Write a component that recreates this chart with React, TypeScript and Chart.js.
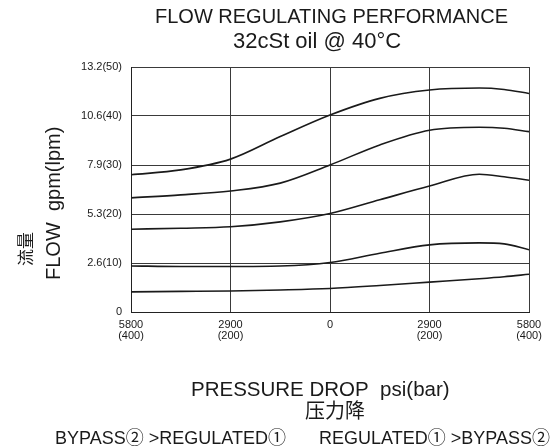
import { useEffect, useRef } from 'react';
import { Chart, registerables } from 'chart.js';

Chart.register(...registerables);

// Pressure drop in bar (negative = BYPASS② >REGULATED①, positive = REGULATED① >BYPASS②)
const pressureBar = [-400, -300, -200, -100, 0, 100, 200, 300, 350, 400];

// Flow in lpm for each regulated setting
const curve1 = [28.0, 29.0, 31.2, 35.8, 40.2, 43.6, 45.3, 45.7, 45.4, 44.6];
const curve2 = [23.3, 23.9, 24.7, 26.3, 30.0, 34.1, 37.1, 37.7, 37.5, 36.8];
const curve3 = [16.9, 17.1, 17.4, 18.4, 20.1, 22.9, 25.7, 28.1, 27.6, 26.9];
const curve4 = [9.4, 9.3, 9.3, 9.4, 10.1, 12.0, 13.7, 14.1, 13.9, 12.7];
const curve5 = [4.1, 4.2, 4.3, 4.5, 4.8, 5.4, 6.1, 6.8, 7.2, 7.7];

const yTickLabels = ['0', '2.6(10)', '5.3(20)', '7.9(30)', '10.6(40)', '13.2(50)'];
const xTickLabels: (string | string[])[] = [
  ['5800', '(400)'],
  ['2900', '(200)'],
  '0',
  ['2900', '(200)'],
  ['5800', '(400)'],
];

const titleLines = ['FLOW REGULATING PERFORMANCE', '32cSt oil @ 40°C'];
const yTitleLines = ['流量', 'FLOW  gpm(lpm)'];
const xTitleLines = ['PRESSURE DROP  psi(bar)', '压力降'];
const directionNotes = ['BYPASS② >REGULATED①', 'REGULATED① >BYPASS②'];

const SANS = '"Liberation Sans", Arial, "Noto Sans CJK SC", sans-serif';
const CJK = '"Noto Sans CJK SC", sans-serif';

const textPlugin = {
  id: 'chartTexts',
  afterDraw(chart: Chart) {
    const ctx = chart.ctx;
    ctx.save();
    ctx.fillStyle = '#1a1a1a';
    ctx.textBaseline = 'alphabetic';
    ctx.textAlign = 'left';

    ctx.font = `20px ${SANS}`;
    ctx.fillText(titleLines[0], 155, 23);
    ctx.font = `22px ${SANS}`;
    ctx.fillText(titleLines[1], 233, 48);

    // y axis title (rotated)
    ctx.save();
    ctx.translate(60, 280);
    ctx.rotate(-Math.PI / 2);
    ctx.font = `20px ${SANS}`;
    ctx.fillText(yTitleLines[1], 0, 0);
    ctx.restore();

    ctx.save();
    ctx.translate(26, 249);
    ctx.rotate(-Math.PI / 2);
    ctx.font = `17px ${CJK}`;
    ctx.textAlign = 'center';
    ctx.textBaseline = 'middle';
    ctx.fillText(yTitleLines[0], 0, 0);
    ctx.restore();

    // x axis title
    ctx.font = `20.5px ${SANS}`;
    ctx.fillText(xTitleLines[0], 191, 396);
    ctx.save();
    ctx.font = `20px ${CJK}`;
    ctx.textAlign = 'center';
    ctx.textBaseline = 'middle';
    ctx.fillText(xTitleLines[1], 335, 410);
    ctx.restore();

    // direction notes
    ctx.font = `18px ${SANS}`;
    ctx.fillText(directionNotes[0], 55, 444);
    ctx.textAlign = 'right';
    ctx.fillText(directionNotes[1], 550, 444);
    ctx.restore();
  },
};

export default function App() {
  const ref = useRef<HTMLCanvasElement | null>(null);

  useEffect(() => {
    if (!ref.current) return;
    const curves = [curve1, curve2, curve3, curve4, curve5];
    const chart = new Chart(ref.current, {
      type: 'line',
      data: {
        datasets: curves.map((c, i) => ({
          label: `curve ${i + 1}`,
          data: pressureBar.map((x, j) => ({ x, y: c[j] })),
          borderColor: '#1a1a1a',
          borderWidth: 1.6,
          pointRadius: 0,
          fill: false,
          cubicInterpolationMode: 'monotone' as const,
        })),
      },
      options: {
        responsive: false,
        animation: false,
        events: [],
        layout: { padding: { left: 0, top: 67, right: 24, bottom: 0 } },
        plugins: {
          legend: { display: false },
          title: { display: false },
          tooltip: { enabled: false },
        },
        scales: {
          x: {
            type: 'linear',
            min: -400,
            max: 400,
            afterFit: (scale: any) => {
              scale.height = 135;
            },
            ticks: {
              stepSize: 200,
              padding: 7,
              color: '#1a1a1a',
              font: { family: SANS, size: 11, lineHeight: 1.0 },
              maxRotation: 0,
              callback: (v: any) => xTickLabels[Math.round((Number(v) + 400) / 200)],
            },
            grid: { color: '#3a3a3a', lineWidth: 1, drawTicks: false },
            border: { color: '#222', width: 1 },
          },
          y: {
            type: 'linear',
            min: 0,
            max: 50,
            afterFit: (scale: any) => {
              scale.width = 131;
            },
            ticks: {
              stepSize: 10,
              padding: 9,
              color: '#1a1a1a',
              font: { family: SANS, size: 11 },
              callback: (v: any) => yTickLabels[Math.round(Number(v) / 10)],
            },
            grid: { color: '#3a3a3a', lineWidth: 1, drawTicks: false },
            border: { color: '#222', width: 1 },
          },
        },
      },
      plugins: [textPlugin],
    });
    return () => chart.destroy();
  }, []);

  return (
    <div style={{ position: 'fixed', left: 0, top: 0, width: 553, height: 447, background: '#fff' }}>
      <canvas ref={ref} width={553} height={447} style={{ width: 553, height: 447 }} />
    </div>
  );
}
